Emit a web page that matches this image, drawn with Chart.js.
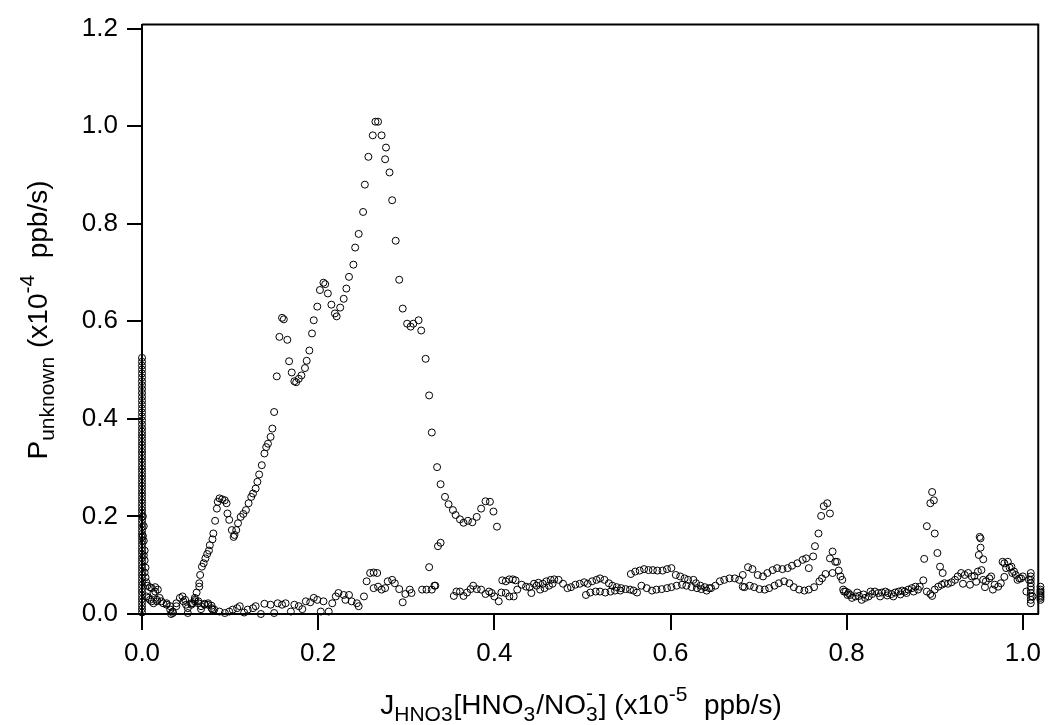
<!DOCTYPE html>
<html>
<head>
<meta charset="utf-8">
<script src="https://cdn.jsdelivr.net/npm/chart.js@4.4.1/dist/chart.umd.min.js"></script>
<style>
  html, body { margin: 0; padding: 0; background: #fff; }
  #plot { display: block; }
</style>
</head>
<body>
<canvas id="plot" width="1049" height="725"></canvas>
<script>
// tick values / labels
const xTickValues = [0, 0.2, 0.4, 0.6, 0.8, 1.0];
const xTickLabels = ['0.0', '0.2', '0.4', '0.6', '0.8', '1.0'];
const yTickValues = [0, 0.2, 0.4, 0.6, 0.8, 1.0, 1.2];
const yTickLabels = ['0.0', '0.2', '0.4', '0.6', '0.8', '1.0', '1.2'];

// stack of points sitting on x = 0
const columnX = 0;
const columnY = [0.525, 0.517, 0.509, 0.501, 0.493, 0.485, 0.477, 0.469, 0.461, 0.453,
  0.445, 0.437, 0.429, 0.421, 0.413, 0.405, 0.397, 0.389, 0.381, 0.374,
  0.367, 0.360, 0.353, 0.346, 0.339, 0.332, 0.325, 0.318, 0.311, 0.304,
  0.297, 0.290, 0.283, 0.276, 0.269, 0.262, 0.255, 0.248, 0.241, 0.234,
  0.227, 0.220, 0.213, 0.206, 0.199, 0.192, 0.185, 0.178, 0.171, 0.164,
  0.157, 0.150, 0.143, 0.136, 0.129, 0.122, 0.115, 0.108, 0.101, 0.094,
  0.087, 0.080, 0.073, 0.066, 0.059, 0.052, 0.045, 0.038, 0.031, 0.024,
  0.017, 0.010, 0.003];

// tail just right of x = 0
const tailX = [0.001, 0.002, 0.001, 0.002, 0.003, 0.002, 0.003, 0.004, 0.003, 0.004, 0.005, 0.006];
const tailY = [0.200, 0.180, 0.160, 0.150, 0.130, 0.120, 0.110, 0.095, 0.085, 0.075, 0.065, 0.058];

// big hump
const humpX = [0.058, 0.060, 0.062, 0.065, 0.065, 0.066, 0.068, 0.070, 0.072, 0.074,
  0.076, 0.077, 0.080, 0.081, 0.083, 0.085, 0.086, 0.088, 0.091, 0.094,
  0.096, 0.097, 0.099, 0.102, 0.104, 0.105, 0.107, 0.109, 0.112, 0.115,
  0.118, 0.121, 0.124, 0.126, 0.129, 0.131, 0.133, 0.136, 0.139, 0.141,
  0.143, 0.146, 0.148, 0.150, 0.153, 0.156, 0.159, 0.161, 0.165, 0.167,
  0.170, 0.173, 0.175, 0.178, 0.181, 0.185, 0.187, 0.190, 0.193, 0.195,
  0.199, 0.202, 0.206, 0.208, 0.211, 0.215, 0.219, 0.221, 0.225, 0.229,
  0.232, 0.235, 0.240, 0.242, 0.246, 0.251, 0.253, 0.257, 0.262, 0.265,
  0.268, 0.272, 0.276, 0.277, 0.281, 0.284, 0.288, 0.292, 0.296, 0.301,
  0.305, 0.308, 0.314, 0.317, 0.322, 0.326, 0.329, 0.335, 0.339, 0.344,
  0.348, 0.353, 0.356, 0.361, 0.365, 0.370, 0.375, 0.380, 0.385, 0.390,
  0.395, 0.399, 0.403, 0.326, 0.332, 0.336, 0.339];
const humpY = [0.022, 0.033, 0.044, 0.056, 0.063, 0.080, 0.097, 0.104, 0.114, 0.123,
  0.130, 0.141, 0.153, 0.165, 0.191, 0.216, 0.230, 0.237, 0.235, 0.233,
  0.227, 0.206, 0.193, 0.172, 0.158, 0.162, 0.172, 0.186, 0.199, 0.205,
  0.213, 0.227, 0.240, 0.247, 0.257, 0.271, 0.286, 0.305, 0.329, 0.342,
  0.349, 0.363, 0.380, 0.414, 0.487, 0.568, 0.607, 0.604, 0.562, 0.518,
  0.495, 0.477, 0.475, 0.482, 0.489, 0.504, 0.519, 0.540, 0.575, 0.602,
  0.630, 0.664, 0.679, 0.676, 0.657, 0.634, 0.616, 0.610, 0.628, 0.646,
  0.667, 0.691, 0.716, 0.751, 0.779, 0.824, 0.880, 0.937, 0.981, 1.009,
  1.009, 0.981, 0.932, 0.956, 0.905, 0.848, 0.765, 0.685, 0.626, 0.595,
  0.589, 0.595, 0.602, 0.581, 0.523, 0.448, 0.372, 0.301, 0.266, 0.240,
  0.225, 0.213, 0.203, 0.194, 0.187, 0.191, 0.188, 0.199, 0.216, 0.231,
  0.230, 0.210, 0.179, 0.096, 0.058, 0.139, 0.146];

// low band, 0 - 0.29
const band1X = [0.005, 0.007, 0.009, 0.009, 0.011, 0.011, 0.013, 0.013, 0.015, 0.015,
  0.017, 0.017, 0.018, 0.020, 0.022, 0.024, 0.028, 0.028, 0.032, 0.032,
  0.033, 0.035, 0.035, 0.039, 0.039, 0.043, 0.046, 0.047, 0.049, 0.050,
  0.052, 0.052, 0.056, 0.056, 0.060, 0.060, 0.064, 0.064, 0.067, 0.067,
  0.071, 0.071, 0.075, 0.075, 0.079, 0.079, 0.080, 0.082, 0.088, 0.094,
  0.099, 0.103, 0.108, 0.111, 0.116, 0.120, 0.126, 0.129, 0.135, 0.139,
  0.146, 0.150, 0.154, 0.159, 0.163, 0.169, 0.173, 0.178, 0.182, 0.186,
  0.191, 0.195, 0.199, 0.203, 0.206, 0.212, 0.216, 0.220, 0.223, 0.229,
  0.231, 0.235, 0.238, 0.244, 0.246, 0.252, 0.255, 0.259, 0.263, 0.267,
  0.263, 0.268, 0.272, 0.276, 0.279, 0.284, 0.287];
const band1Y = [0.036, 0.033, 0.055, 0.029, 0.053, 0.026, 0.043, 0.022, 0.055, 0.046,
  0.026, 0.029, 0.050, 0.033, 0.026, 0.022, 0.019, 0.022, 0.009, 0.016,
  0.000, 0.002, 0.005, 0.016, 0.022, 0.033, 0.036, 0.026, 0.029, 0.019,
  0.002, 0.012, 0.022, 0.019, 0.029, 0.026, 0.026, 0.022, 0.016, 0.010,
  0.019, 0.021, 0.019, 0.022, 0.012, 0.017, 0.009, 0.009, 0.005, 0.002,
  0.005, 0.009, 0.012, 0.016, 0.003, 0.009, 0.012, 0.016, 0.000, 0.021,
  0.019, 0.002, 0.022, 0.019, 0.022, 0.005, 0.019, 0.016, 0.010, 0.026,
  0.024, 0.033, 0.029, 0.005, 0.026, 0.005, 0.022, 0.036, 0.043, 0.039,
  0.029, 0.039, 0.026, 0.022, 0.016, 0.036, 0.067, 0.084, 0.085, 0.084,
  0.053, 0.056, 0.050, 0.053, 0.067, 0.070, 0.063];

// low band, 0.29 - 0.50
const band2X = [0.292, 0.296, 0.299, 0.304, 0.306, 0.318, 0.323, 0.329, 0.333, 0.354,
  0.357, 0.361, 0.365, 0.369, 0.373, 0.376, 0.380, 0.385, 0.390, 0.394,
  0.397, 0.400, 0.405, 0.408, 0.409, 0.413, 0.417, 0.421, 0.424, 0.413,
  0.417, 0.422, 0.426, 0.431, 0.436, 0.440, 0.442, 0.445, 0.448, 0.450,
  0.452, 0.455, 0.457, 0.459, 0.462, 0.464, 0.466, 0.468, 0.473, 0.478,
  0.483, 0.487, 0.492];
const band2Y = [0.051, 0.024, 0.041, 0.050, 0.043, 0.050, 0.050, 0.050, 0.058, 0.037,
  0.046, 0.046, 0.037, 0.044, 0.051, 0.058, 0.051, 0.050, 0.041, 0.046,
  0.043, 0.036, 0.026, 0.044, 0.069, 0.067, 0.071, 0.071, 0.069, 0.043,
  0.036, 0.036, 0.050, 0.060, 0.056, 0.055, 0.043, 0.062, 0.058, 0.064,
  0.050, 0.062, 0.053, 0.067, 0.058, 0.070, 0.062, 0.071, 0.070, 0.062,
  0.053, 0.055, 0.060];

// low band, 0.50 - 0.68
const band3X = [0.497, 0.502, 0.506, 0.511, 0.516, 0.520, 0.525, 0.530, 0.534, 0.539,
  0.544, 0.549, 0.554, 0.558, 0.562,
  0.504, 0.509, 0.515, 0.520, 0.526, 0.532, 0.537, 0.543,
  0.555, 0.560, 0.565, 0.570, 0.575, 0.580, 0.585, 0.591, 0.596, 0.601,
  0.606, 0.611, 0.616, 0.620, 0.626, 0.629, 0.634, 0.639, 0.644,
  0.567, 0.573, 0.579, 0.584, 0.590, 0.596, 0.601, 0.607, 0.613, 0.618,
  0.624, 0.630, 0.635, 0.641, 0.646, 0.651, 0.656, 0.661, 0.667, 0.673,
  0.678, 0.682];
const band3Y = [0.062, 0.065, 0.062, 0.067, 0.070, 0.073, 0.070, 0.063, 0.058, 0.055,
  0.053, 0.051, 0.050, 0.048, 0.044,
  0.039, 0.044, 0.046, 0.046, 0.044, 0.046, 0.048, 0.048,
  0.082, 0.087, 0.089, 0.092, 0.090, 0.090, 0.089, 0.089, 0.092, 0.094,
  0.080, 0.077, 0.073, 0.070, 0.070, 0.063, 0.058, 0.055, 0.053,
  0.058, 0.053, 0.048, 0.050, 0.051, 0.053, 0.055, 0.058, 0.060, 0.058,
  0.055, 0.053, 0.051, 0.048, 0.053, 0.058, 0.067, 0.070, 0.073, 0.073,
  0.070, 0.056];

// low band, 0.68 - 1.02
const band4X = [0.682, 0.688, 0.693, 0.699, 0.705, 0.710, 0.716, 0.721, 0.727, 0.733,
  0.738, 0.744, 0.750, 0.754, 0.757, 0.762,
  0.684, 0.690, 0.695, 0.701, 0.707, 0.712, 0.718, 0.723, 0.729, 0.735,
  0.740, 0.746, 0.752, 0.757, 0.763, 0.769, 0.772, 0.776,
  0.784, 0.787, 0.789, 0.791, 0.793, 0.795, 0.796, 0.797, 0.799, 0.801,
  0.802, 0.804, 0.806, 0.810, 0.814, 0.817, 0.821, 0.825, 0.829, 0.832,
  0.836, 0.840, 0.844, 0.847, 0.851, 0.855, 0.859, 0.863, 0.866, 0.870,
  0.874, 0.878, 0.881, 0.883, 0.887, 0.891, 0.895, 0.897, 0.900, 0.904,
  0.908, 0.911, 0.915, 0.919, 0.923, 0.926, 0.930, 0.934, 0.938, 0.942,
  0.945, 0.949, 0.953, 0.955, 0.958, 0.962, 0.964, 0.968, 0.972, 0.975,
  0.979, 0.981, 0.983, 0.987, 0.990, 0.992, 0.994, 0.996, 0.998, 1.000,
  1.004, 1.007, 1.011,
  0.812, 0.819, 0.827, 0.838, 0.846, 0.853, 0.861, 0.868, 0.876,
  0.932, 0.940, 0.947, 0.957, 0.966, 0.977, 0.979, 0.985, 0.988];
const band4Y = [0.080, 0.096, 0.092, 0.080, 0.077, 0.084, 0.090, 0.094, 0.092, 0.094,
  0.099, 0.104, 0.111, 0.114, 0.094, 0.118,
  0.055, 0.058, 0.055, 0.051, 0.050, 0.053, 0.058, 0.063, 0.067, 0.063,
  0.055, 0.050, 0.048, 0.050, 0.055, 0.067, 0.073, 0.082,
  0.084, 0.107, 0.107, 0.089, 0.077, 0.070, 0.050, 0.046, 0.046, 0.039,
  0.043, 0.039, 0.033, 0.036, 0.037, 0.029, 0.033, 0.036, 0.041, 0.046,
  0.043, 0.044, 0.046, 0.043, 0.041, 0.044, 0.046, 0.048, 0.046, 0.050,
  0.053, 0.056, 0.050, 0.056, 0.069, 0.046, 0.041, 0.037, 0.050, 0.056,
  0.060, 0.063, 0.062, 0.065, 0.070, 0.077, 0.084, 0.080, 0.084, 0.077,
  0.078, 0.087, 0.090, 0.070, 0.067, 0.073, 0.077, 0.060, 0.056, 0.063,
  0.076, 0.094, 0.107, 0.097, 0.087, 0.080, 0.070, 0.073, 0.073, 0.077,
  0.046, 0.070, 0.036,
  0.044, 0.040, 0.046, 0.036, 0.038, 0.036, 0.040, 0.043, 0.046,
  0.062, 0.060, 0.066, 0.055, 0.050, 0.107, 0.104, 0.095, 0.084];

// spikes near 0.78, 0.90, 0.95
const spikeX = [0.764, 0.768, 0.771, 0.774, 0.778, 0.781, 0.784, 0.781,
  0.888, 0.891, 0.895, 0.897, 0.899, 0.900, 0.903, 0.906, 0.909,
  0.950, 0.951, 0.952, 0.952, 0.955];
const spikeY = [0.139, 0.165, 0.201, 0.221, 0.227, 0.206, 0.128, 0.114,
  0.113, 0.180, 0.227, 0.250, 0.233, 0.165, 0.125, 0.097, 0.084,
  0.121, 0.158, 0.155, 0.136, 0.112];

// stacks at the right edge
const edge1X = 1.009;
const edge1Y = [0.084, 0.077, 0.070, 0.063, 0.056, 0.050, 0.043, 0.036, 0.029, 0.022];
const edge2X = 1.020;
const edge2Y = [0.056, 0.050, 0.046, 0.043, 0.039, 0.036, 0.033, 0.029];

function zip(xs, ys) {
    return ys.map((y, i) => ({ x: Array.isArray(xs) ? xs[i] : xs, y: y }));
}

const allPoints = [].concat(
    zip(columnX, columnY), zip(tailX, tailY), zip(humpX, humpY),
    zip(band1X, band1Y), zip(band2X, band2Y), zip(band3X, band3Y), zip(band4X, band4Y),
    zip(spikeX, spikeY), zip(edge1X, edge1Y), zip(edge2X, edge2Y)
);

const FAMILY = '"Liberation Sans", Arial, sans-serif';
const MAIN = 28, SMALL = 21;

// axis titles with sub/superscripts
const xTitle = [
    { t: 'J' }, { t: 'HNO3', k: 'sub' }, { t: '[HNO' }, { t: '3', k: 'sub' },
    { t: '/NO' }, { t: '3', k: 'subsup', s: '-' }, { t: '] (x10' }, { t: '-5', k: 'sup' }, { t: '  ppb/s)' }
];
const yTitle = [
    { t: 'P' }, { t: 'unknown', k: 'sub' }, { t: ' (x10' }, { t: '-4', k: 'sup' }, { t: '  ppb/s)' }
];

function partWidth(ctx, p) {
    if (!p.k) { ctx.font = MAIN + 'px ' + FAMILY; return ctx.measureText(p.t).width; }
    ctx.font = SMALL + 'px ' + FAMILY;
    let w = ctx.measureText(p.t).width;
    if (p.s) w = Math.max(w, ctx.measureText(p.s).width);
    return w + 1;
}

function drawRich(ctx, parts, cx, baseY) {
    let total = 0;
    parts.forEach(p => { total += partWidth(ctx, p); });
    let x = cx - total / 2;
    ctx.textAlign = 'left';
    ctx.textBaseline = 'alphabetic';
    ctx.fillStyle = '#000';
    parts.forEach(p => {
        const w = partWidth(ctx, p);
        if (!p.k) {
            ctx.font = MAIN + 'px ' + FAMILY;
            ctx.fillText(p.t, x, baseY);
        } else {
            ctx.font = SMALL + 'px ' + FAMILY;
            if (p.k === 'sub' || p.k === 'subsup') ctx.fillText(p.t, x, baseY + 7);
            if (p.k === 'sup') ctx.fillText(p.t, x, baseY - 13);
            if (p.k === 'subsup') ctx.fillText(p.s, x, baseY - 14);
        }
        x += w;
    });
}

const framePlugin = {
    id: 'frame',
    afterDraw(chart) {
        const ctx = chart.ctx;
        const a = chart.chartArea;
        ctx.save();
        ctx.strokeStyle = '#000';
        ctx.lineWidth = 2;
        ctx.beginPath();
        ctx.moveTo(a.left, a.top);
        ctx.lineTo(a.right, a.top);
        ctx.lineTo(a.right, a.bottom);
        ctx.stroke();
        drawRich(ctx, xTitle, 581, 714);
        ctx.translate(47, 320);
        ctx.rotate(-Math.PI / 2);
        drawRich(ctx, yTitle, 0, 0);
        ctx.restore();
    }
};

const tickFont = { family: FAMILY, size: 26 };

new Chart(document.getElementById('plot').getContext('2d'), {
    type: 'scatter',
    data: {
        datasets: [{
            data: allPoints,
            pointStyle: 'circle',
            pointRadius: 3.5,
            pointBorderWidth: 1,
            pointBorderColor: '#000',
            pointBackgroundColor: 'rgba(0,0,0,0)',
            clip: false
        }]
    },
    options: {
        responsive: false,
        animation: false,
        devicePixelRatio: 1,
        layout: { padding: { top: 23, right: 5, left: 0, bottom: 0 } },
        plugins: { legend: { display: false }, tooltip: { enabled: false } },
        scales: {
            x: {
                type: 'linear',
                min: 0,
                max: 1.0175,
                afterFit: s => { s.height = 111; },
                afterBuildTicks: s => { s.ticks = xTickValues.map(v => ({ value: v })); },
                ticks: {
                    callback: (v, i) => xTickLabels[i],
                    font: tickFont, color: '#000', padding: 8,
                    maxRotation: 0, autoSkip: false
                },
                grid: { drawOnChartArea: false, drawTicks: true, tickLength: 16, color: '#000', lineWidth: 2 },
                border: { display: true, color: '#000', width: 2 }
            },
            y: {
                type: 'linear',
                min: 0,
                max: 1.208,
                afterFit: s => { s.width = 142; },
                afterBuildTicks: s => { s.ticks = yTickValues.map(v => ({ value: v })); },
                ticks: {
                    callback: (v, i) => yTickLabels[i],
                    font: tickFont, color: '#000', padding: 9,
                    autoSkip: false
                },
                grid: { drawOnChartArea: false, drawTicks: true, tickLength: 15, color: '#000', lineWidth: 2 },
                border: { display: true, color: '#000', width: 2 }
            }
        }
    },
    plugins: [framePlugin]
});
</script>
</body>
</html>
